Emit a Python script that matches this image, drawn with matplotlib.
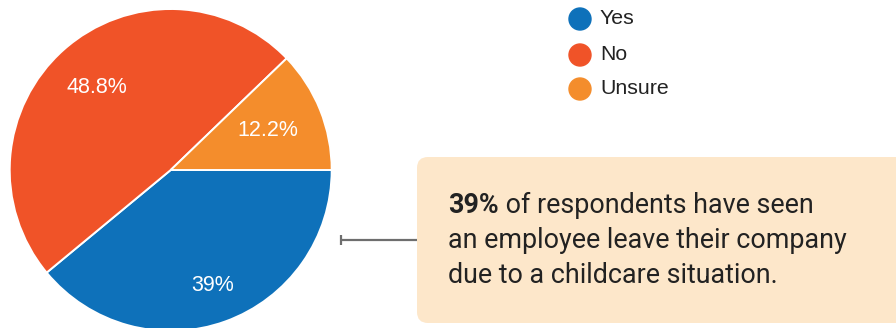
import matplotlib
matplotlib.use("Agg")
import matplotlib.pyplot as plt
from matplotlib.patches import FancyBboxPatch, Circle
import numpy as np

# Survey answers
categories = ["Yes", "No", "Unsure"]
shares = [39.0, 48.8, 12.2]
pct_labels = ["39%", "48.8%", "12.2%"]
colors = ["#0E71BA", "#F05328", "#F48D2C"]

callout_bold = "39%"
callout_lines = [" of respondents have seen",
                 "an employee leave their company",
                 "due to a childcare situation."]

W, H = 896, 328
fig = plt.figure(figsize=(W / 100, H / 100), dpi=100)
ax = fig.add_axes([0, 0, 1, 1])
ax.set_xlim(0, W)
ax.set_ylim(0, H)
ax.set_aspect("equal")
ax.axis("off")

# Pie drawn in pixel coordinates
cx, cy, r = 170.7, H - 170, 161
wedges, _ = ax.pie(shares, colors=colors, startangle=0, counterclock=False,
                   center=(cx, cy), radius=r,
                   wedgeprops=dict(edgecolor="white", linewidth=1.4))
ax.set_xlim(0, W)
ax.set_ylim(0, H)

label_frac = [0.76, 0.69, 0.65]
for w, lab, f in zip(wedges, pct_labels, label_frac):
    mid = np.deg2rad((w.theta1 + w.theta2) / 2)
    ax.text(cx + f * r * np.cos(mid), cy + f * r * np.sin(mid), lab,
            color="white", fontsize=15.5, family="Liberation Sans",
            ha="center", va="center")

# Legend
leg_y = [H - 19, H - 55, H - 89]
for cat, col, y in zip(categories, colors, leg_y):
    ax.add_patch(Circle((580, y), 11, color=col))
    ax.text(600, y, cat, fontsize=15.3, family="Liberation Sans",
            color="#222222", ha="left", va="center")

# Callout box and connector
ax.add_patch(FancyBboxPatch((417, H - 323), 500, 166,
                            boxstyle="round,pad=0,rounding_size=11",
                            facecolor="#FDE7CA", edgecolor="none"))
ax.plot([341, 417], [H - 240, H - 240], color="#6E6E6E", lw=1.6,
        solid_capstyle="butt")
ax.plot([341, 341], [H - 245, H - 235], color="#6E6E6E", lw=1.6,
        solid_capstyle="butt")

tx = 448
base = [H - 213, H - 248, H - 283]
tfont = dict(fontsize=19.4, family="Roboto", color="#222222", va="baseline",
             ha="left")
b = ax.text(tx, base[0], callout_bold, fontweight="bold", **tfont)
fig.canvas.draw()
ext = b.get_window_extent()
ax.text(ext.x1, base[0], callout_lines[0], **tfont)
ax.text(tx, base[1], callout_lines[1], **tfont)
ax.text(tx, base[2], callout_lines[2], **tfont)

fig.savefig("out.png", dpi=100)
